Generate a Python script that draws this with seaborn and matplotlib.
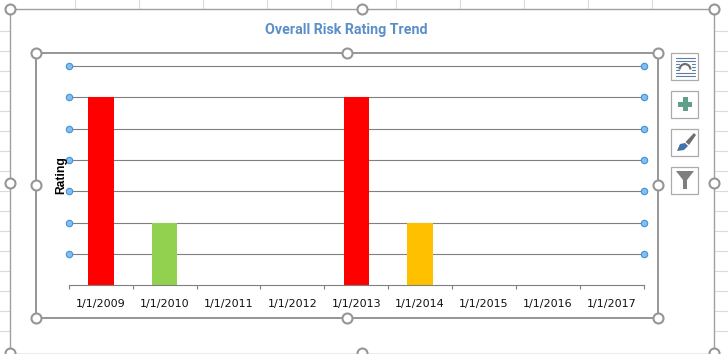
import matplotlib
matplotlib.use("Agg")
import matplotlib.pyplot as plt
from matplotlib.patches import Rectangle, Polygon, Wedge
import pandas as pd
import seaborn as sns

# ---- data ----
dates = ["1/1/2009", "1/1/2010", "1/1/2011", "1/1/2012", "1/1/2013",
         "1/1/2014", "1/1/2015", "1/1/2016", "1/1/2017"]
ratings = [6, 2, 0, 0, 6, 2, 0, 0, 0]
bar_colors = ["#FF0000", "#92D050", "#FFFFFF", "#FFFFFF", "#FF0000",
              "#FFC000", "#FFFFFF", "#FFFFFF", "#FFFFFF"]
title_text = "Overall Risk Rating Trend"
y_label = "Rating"
y_levels = [1, 2, 3, 4, 5, 6, 7]

W, H = 728, 354
sns.set_theme(style="white")
plt.rcParams["font.family"] = ["DejaVu Sans"]
fig = plt.figure(figsize=(W / 100, H / 100), dpi=100, facecolor="white")

# ---- pixel-space layers for the spreadsheet chrome ----
bg = fig.add_axes([0, 0, 1, 1], zorder=0)
bg.set_xlim(0, W); bg.set_ylim(H, 0); bg.axis("off")
fg = fig.add_axes([0, 0, 1, 1], zorder=5)
fg.set_xlim(0, W); fg.set_ylim(H, 0); fg.axis("off"); fg.patch.set_alpha(0)

# sheet cell lines outside the chart object
for x in [75, 139, 203, 267, 331, 395.5, 459.5, 523.5, 587.5, 651.5]:
    bg.plot([x, x], [0, 9], color="#DADADA", lw=0.8)
for y in range(30, 350, 20):
    bg.plot([0, 10], [y + .5, y + .5], color="#DADADA", lw=0.8)
    bg.plot([715, 728], [y + .5, y + .5], color="#DADADA", lw=0.8)

# selection frames
GR = "#969696"
fg.add_patch(Rectangle((10.4, 9.4), 704, 344.5, fill=False, ec="#A0A0A0", lw=1.0))
fg.add_patch(Rectangle((35.6, 52.9), 622.5, 265, fill=False, ec=GR, lw=1.4))
handles_outer = [(10.4, 9.4), (362.4, 9.4), (714.4, 9.4), (10.4, 183), (714.4, 183),
                 (10.4, 353), (362.4, 353), (714.4, 353)]
handles_inner = [(35.6, 52.9), (346.6, 52.9), (658.1, 52.9), (35.6, 185), (658.1, 185),
                 (35.6, 317.9), (346.6, 317.9), (658.1, 317.9)]
for x, y in handles_outer + handles_inner:
    fg.plot(x, y, "o", ms=7.2, mfc="white", mec=GR, mew=1.5, clip_on=True)

# side buttons
for y in [52.5, 90.5, 128.5, 166.5]:
    fg.add_patch(Rectangle((671.4, y), 27, 27, fc="white", ec="#ABABAB", lw=0.9))
for y in [57.5, 60.5, 63.5, 66.5, 69.5, 72.5, 75.5]:
    c = "#5B7FA8"
    if y in (63.5, 66.5, 69.5):
        fg.plot([675.5, 678.5], [y, y], color=c, lw=0.8)
        fg.plot([691.5, 694.5], [y, y], color=c, lw=0.8)
    else:
        fg.plot([675.5, 694.5], [y, y], color=c, lw=0.8)
fg.add_patch(Wedge((685, 69.5), 6.5, 180, 360, width=2.2, fc="#6E6E6E", ec="none"))
fg.add_patch(Rectangle((682.5, 97), 5, 14, fc="#5FA08A", ec="none"))
fg.add_patch(Rectangle((678, 101.5), 14, 5, fc="#5FA08A", ec="none"))
fg.add_patch(Polygon([(694, 133), (696, 135), (689, 145), (685.5, 142)], fc="#6E6E6E", ec="none"))
fg.add_patch(Polygon([(677, 151), (680, 144), (685, 143), (688, 146), (684, 150)], fc="#4472A8", ec="none"))
fg.add_patch(Polygon([(676, 171), (694, 171), (687, 180), (687, 189), (683, 189), (683, 180)],
                     fc="#7F7F7F", ec="none"))

# ---- chart ----
L, R, T, B = 68.8, 643.8, 66.2, 285.2
ax = fig.add_axes([L / W, 1 - B / H, (R - L) / W, (B - T) / H], zorder=2)
ax.patch.set_alpha(0)
df = pd.DataFrame({"date": dates, "rating": ratings})
for level in y_levels:
    ax.axhline(level, color="#7F7F7F", lw=0.8, zorder=0.5, clip_on=False)
sns.barplot(data=df, x="date", y="rating", hue="date", palette=bar_colors, legend=False,
            width=0.4, dodge=False, saturation=1, ax=ax, zorder=2,
            edgecolor="none", linewidth=0)
for p, v in zip(ax.patches, ratings):
    if v == 0:
        p.set_visible(False)
ax.set_xlim(-0.5, len(dates) - 0.5)
ax.set_ylim(0, max(y_levels))
for level in y_levels:
    ax.plot([-0.5, len(dates) - 0.5], [level, level], ls="none", marker="o", ms=4.6,
            mfc="#85BDEE", mec="#3F92D8", mew=0.8, clip_on=False, zorder=4)
sns.despine(ax=ax, left=True, top=True, right=True)
ax.spines["bottom"].set_color("#7F7F7F")
ax.spines["bottom"].set_linewidth(0.8)
ax.set_yticks([])
ax.set_xticks(range(len(dates)))
ax.set_xticklabels(dates, fontsize=8, color="#111111")
ax.set_xticks([i - 0.5 for i in range(len(dates) + 1)], minor=True)
ax.tick_params(axis="x", which="major", length=0, pad=9.7)
ax.tick_params(axis="x", which="minor", length=3.2, width=0.8, color="#7F7F7F",
               direction="out", bottom=True)
ax.set_xlabel("")
ax.set_ylabel("")

fg.text(346, 30, title_text, ha="center", va="center", color="#5B8FC9",
        fontsize=10.3, fontweight="bold", family="Roboto")
fg.text(61, 175.5, y_label, ha="center", va="center", rotation=90, color="#000000",
        fontsize=8.7, fontweight="bold", family="Liberation Sans")

fig.savefig("out.png", dpi=100, facecolor="white")
